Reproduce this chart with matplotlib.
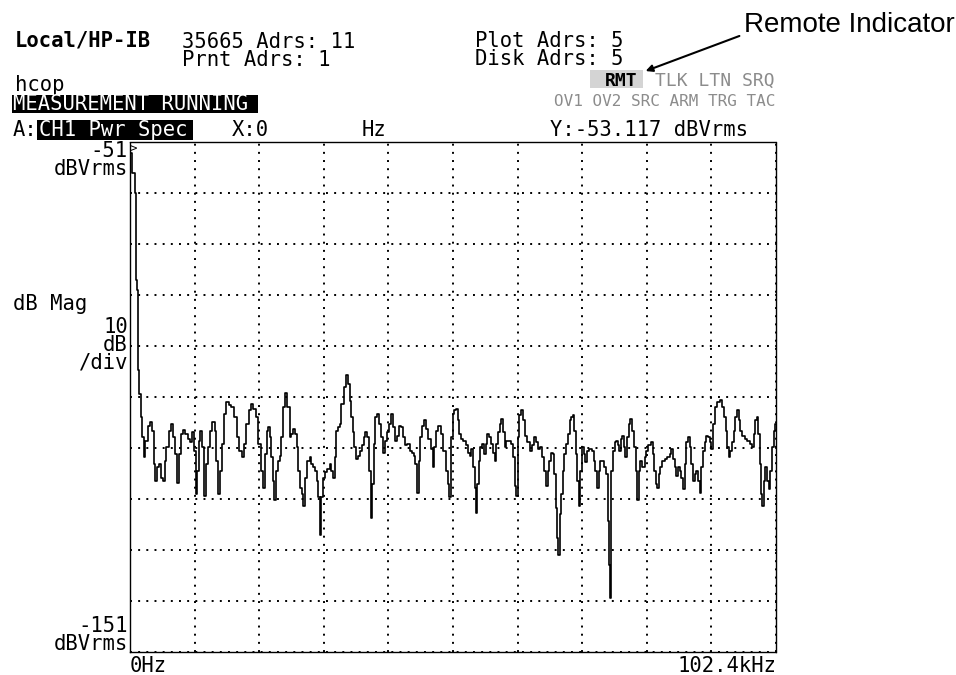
import numpy as np
import matplotlib
matplotlib.use("Agg")
import matplotlib.pyplot as plt
from matplotlib.patches import Rectangle

# trace (kHz, dBVrms)
freq_khz = [
    0.00, 0.50, 0.95, 1.00, 1.20, 1.27, 1.60, 1.80, 2.06, 2.22,
    2.59, 2.96, 3.28, 3.65, 3.91, 4.17, 4.54, 4.81, 5.07, 5.34,
    5.60, 5.92, 6.29, 6.66, 7.08, 7.34, 7.61, 7.87, 8.14, 8.51,
    8.93, 9.30, 9.72, 9.99, 10.25, 10.52, 10.78, 11.04, 11.31, 11.57,
    11.94, 12.21, 12.47, 12.89, 13.26, 13.58, 13.84, 14.06, 14.37, 14.74,
    15.11, 15.43, 15.80, 16.33, 16.70, 17.12, 17.54, 17.91, 18.28, 18.60,
    18.97, 19.34, 19.76, 20.18, 20.55, 20.92, 21.24, 21.56, 21.77, 22.03,
    22.30, 22.51, 22.77, 23.04, 23.30, 23.57, 23.83, 24.09, 24.36, 24.78,
    25.15, 25.42, 25.68, 26.00, 26.26, 26.53, 26.84, 27.16, 27.42, 27.58,
    27.95, 28.32, 28.59, 28.85, 29.17, 29.43, 29.70, 29.96, 30.17, 30.44,
    30.75, 31.12, 31.49, 31.81, 32.07, 32.34, 32.55, 32.81, 33.13, 33.39,
    33.66, 34.03, 34.40, 34.77, 34.98, 35.19, 35.40, 35.72, 36.04, 36.35,
    36.67, 36.93, 37.20, 37.46, 37.73, 37.99, 38.26, 38.52, 38.78, 39.05,
    39.31, 39.58, 39.95, 40.26, 40.63, 40.89, 41.15, 41.52, 41.84, 42.16,
    42.48, 42.85, 43.11, 43.43, 43.80, 44.17, 44.48, 44.80, 45.12, 45.38,
    45.65, 45.91, 46.17, 46.44, 46.70, 47.07, 47.49, 47.86, 48.13, 48.39,
    48.71, 49.08, 49.45, 49.87, 50.24, 50.51, 50.72, 51.04, 51.25, 51.56,
    51.83, 52.09, 52.36, 52.67, 53.04, 53.36, 53.68, 53.99, 54.26, 54.52,
    54.73, 54.89, 55.16, 55.42, 55.69, 56.00, 56.27, 56.53, 56.74, 57.06,
    57.38, 57.69, 57.96, 58.22, 58.49, 58.75, 59.01, 59.28, 59.54, 59.81,
    60.18, 60.55, 60.86, 61.13, 61.39, 61.50, 61.76, 62.13, 62.45, 62.82,
    63.19, 63.61, 63.88, 64.14, 64.46, 64.78, 65.09, 65.41, 65.73, 66.04,
    66.36, 66.63, 66.89, 67.15, 67.42, 67.63, 67.84, 68.00, 68.21, 68.47,
    68.74, 69.00, 69.32, 69.58, 69.85, 70.11, 70.32, 70.59, 70.80, 71.01,
    71.28, 71.54, 71.80, 72.07, 72.33, 72.60, 73.02, 73.39, 73.65, 73.92,
    74.18, 74.45, 74.71, 74.97, 75.34, 75.66, 75.87, 76.03, 76.14, 76.24,
    76.40, 76.67, 76.93, 77.19, 77.46, 77.67, 77.88, 78.14, 78.41, 78.67,
    78.94, 79.20, 79.47, 79.73, 79.99, 80.31, 80.52, 80.79, 81.05, 81.42,
    81.74, 82.00, 82.36, 82.73, 83.00, 83.26, 83.53, 83.69, 83.95, 84.21,
    84.58, 85.01, 85.38, 85.69, 85.96, 86.22, 86.49, 86.75, 87.01, 87.28,
    87.54, 87.81, 88.07, 88.34, 88.60, 88.86, 89.13, 89.39, 89.66, 89.92,
    90.18, 90.45, 90.71, 90.98, 91.24, 91.51, 91.77, 92.03, 92.30, 92.67,
    92.93, 93.30, 93.62, 93.99, 94.25, 94.57, 94.78, 95.05, 95.31, 95.57,
    95.84, 96.10, 96.37, 96.63, 96.90, 97.26, 97.69, 98.06, 98.48, 98.80,
    99.01, 99.27, 99.43, 99.70, 99.96, 100.17, 100.33, 100.59, 100.86, 101.12,
    101.39, 101.65, 101.92, 102.18, 102.40,
]
level_dbv = [
    -53.1, -57.0, -61.0, -78.0, -80.0, -95.7, -100.5, -104.9, -108.9, -112.8,
    -109.6, -106.6, -105.9, -107.6, -114.2, -117.4, -114.8, -114.2, -116.8, -117.4,
    -113.5, -110.9, -107.6, -106.3, -108.9, -112.2, -117.8, -112.2, -108.2, -107.4,
    -108.2, -109.2, -109.9, -107.9, -111.5, -120.1, -115.5, -109.6, -107.6, -110.9,
    -120.4, -114.2, -110.9, -107.6, -105.9, -107.6, -113.5, -120.1, -115.5, -110.2,
    -104.3, -102.0, -102.6, -103.0, -104.9, -108.9, -111.5, -112.8, -110.2, -106.3,
    -103.6, -102.3, -103.3, -104.9, -110.2, -115.5, -118.8, -112.2, -107.6, -106.9,
    -108.9, -112.8, -117.4, -121.1, -115.5, -113.5, -112.5, -108.9, -103.0, -100.3,
    -103.0, -108.9, -108.2, -107.3, -108.2, -110.9, -115.5, -118.8, -120.1, -122.4,
    -116.8, -113.5, -112.8, -114.2, -114.8, -115.5, -117.4, -120.7, -128.0, -120.7,
    -116.8, -115.8, -115.1, -114.2, -115.5, -116.8, -112.8, -107.6, -106.9, -106.3,
    -102.3, -99.0, -96.7, -98.4, -101.7, -104.9, -107.9, -110.9, -113.2, -112.5,
    -111.5, -110.5, -108.9, -107.9, -108.9, -115.5, -124.7, -118.1, -110.2, -104.9,
    -104.3, -106.3, -108.9, -111.9, -109.6, -107.9, -106.3, -104.3, -106.9, -109.6,
    -108.6, -106.6, -106.9, -108.9, -110.5, -110.2, -111.5, -111.9, -112.5, -114.2,
    -119.8, -113.5, -108.9, -106.6, -105.6, -107.3, -109.2, -111.2, -114.8, -110.9,
    -107.6, -106.6, -108.2, -111.5, -115.5, -118.1, -120.7, -108.9, -104.3, -103.6,
    -103.3, -105.6, -108.2, -109.2, -109.6, -110.5, -111.9, -112.5, -111.2, -114.8,
    -118.8, -123.7, -118.1, -113.5, -110.9, -110.2, -112.2, -110.2, -108.2, -108.9,
    -110.2, -111.9, -113.5, -110.2, -107.9, -106.3, -105.3, -107.9, -110.9, -109.6,
    -109.6, -110.2, -112.8, -118.4, -120.4, -108.9, -104.6, -103.6, -105.6, -108.6,
    -109.9, -111.5, -110.5, -108.9, -109.9, -111.2, -110.9, -112.8, -115.5, -118.4,
    -115.5, -113.5, -111.9, -112.2, -116.1, -122.7, -128.6, -131.9, -124.0, -120.1,
    -115.5, -112.2, -110.2, -108.2, -105.6, -104.9, -104.6, -107.6, -112.2, -117.4,
    -122.4, -115.5, -110.9, -112.2, -113.8, -111.5, -111.2, -111.5, -113.5, -115.5,
    -118.8, -115.5, -113.5, -113.5, -114.8, -116.1, -125.3, -133.9, -140.5, -128.6,
    -115.5, -111.5, -109.9, -109.6, -110.5, -111.5, -109.2, -108.6, -110.9, -112.8,
    -108.9, -106.3, -105.3, -107.6, -110.9, -115.5, -121.1, -115.5, -113.5, -114.8,
    -112.8, -111.5, -110.5, -109.9, -112.2, -115.5, -118.1, -118.8, -116.1, -114.8,
    -113.5, -113.2, -112.8, -112.2, -111.2, -113.2, -114.8, -116.5, -114.8, -115.5,
    -116.8, -119.1, -114.2, -109.9, -108.9, -110.9, -114.2, -117.4, -116.1, -115.5,
    -117.4, -119.8, -114.8, -111.5, -109.9, -108.6, -108.9, -109.9, -111.2, -106.3,
    -103.0, -102.0, -101.5, -103.0, -104.9, -107.6, -110.9, -112.8, -111.5, -109.9,
    -107.6, -104.9, -103.6, -105.6, -107.6, -108.6, -109.2, -109.6, -110.2, -110.9,
    -108.2, -105.6, -104.9, -108.2, -114.2, -120.1, -122.4, -117.4, -114.8, -117.4,
    -119.1, -115.5, -110.9, -107.6, -106.3,
]

x_start, x_stop = 0.0, 102.4
y_top, y_bottom = -51, -151

W, H = 956, 675
mono = "DejaVu Sans Mono"
fs = 14.8

fig = plt.figure(figsize=(W / 100, H / 100), dpi=100)
ax = fig.add_axes([130 / W, 1 - 652 / H, 646 / W, 510 / H])

ax.plot(freq_khz, level_dbv, color="black", lw=1.2, drawstyle="steps-mid")
ax.set_xlim(x_start, x_stop)
ax.set_ylim(y_bottom, y_top)
ax.set_xticks(np.linspace(x_start, x_stop, 11))
ax.set_yticks(np.linspace(y_bottom, y_top, 11))
ax.tick_params(length=0, labelbottom=False, labelleft=False)
ax.grid(True, color="black", lw=1.4, ls=(0, (1, 3.2)))
for sp in ax.spines.values():
    sp.set_linestyle((0, (1, 1)))
    sp.set_linewidth(1.0)


def put(x, y, s, **kw):
    # x, y in screen pixels from top-left, y is the baseline of the last line
    kw.setdefault("family", mono)
    kw.setdefault("fontsize", fs)
    fig.text(x / W, 1 - y / H, s, va="baseline", linespacing=0.88, **kw)


def box(x0, y0, x1, y1, color):
    fig.add_artist(Rectangle((x0 / W, 1 - y1 / H), (x1 - x0) / W, (y1 - y0) / H,
                             transform=fig.transFigure, color=color, lw=0))


# header
put(15, 47, "Local/HP-IB", fontweight="bold")
put(182, 66, "35665 Adrs: 11\nPrnt Adrs: 1")
put(475, 65, "Plot Adrs: 5\nDisk Adrs: 5")
put(15, 91, "hcop")
box(12, 95, 258, 113, "black")
put(13, 110, "MEASUREMENT RUNNING", color="white")

box(590, 70, 643, 88, "#d4d4d4")
put(605, 86, "RMT", fontweight="bold", fontsize=13)
put(775, 86, "TLK LTN SRQ", color="#8c8c8c", fontsize=13, ha="right")
put(775, 106, "OV1 OV2 SRC ARM TRG TAC", color="#8c8c8c", fontsize=11.5, ha="right")

put(13, 136, "A:")
box(37, 120, 193, 140, "black")
put(39, 136, "CH1 Pwr Spec", color="white")
put(232, 136, "X:0")
put(362, 136, "Hz")
put(550, 136, "Y:-53.117 dBVrms")

# y axis labels
put(128, 175, "-51\ndBVrms", ha="right", multialignment="right")
put(129, 153, ">", fontsize=9)
put(13, 310, "dB Mag")
put(128, 369, "10\ndB\n/div", ha="right", multialignment="right")
put(128, 650, "-151\ndBVrms", ha="right", multialignment="right")

# x axis labels
put(130, 672, "0Hz")
put(776, 672, "102.4kHz", ha="right")

put(744, 32, "Remote Indicator", family="Liberation Sans", fontsize=20)
ax.annotate("", xy=(643 / W, 1 - 72 / H), xycoords="figure fraction",
            xytext=(742 / W, 1 - 35 / H), textcoords="figure fraction",
            arrowprops=dict(arrowstyle="-|>", color="black", lw=1.5),
            annotation_clip=False)

fig.savefig("out.png", dpi=100)
